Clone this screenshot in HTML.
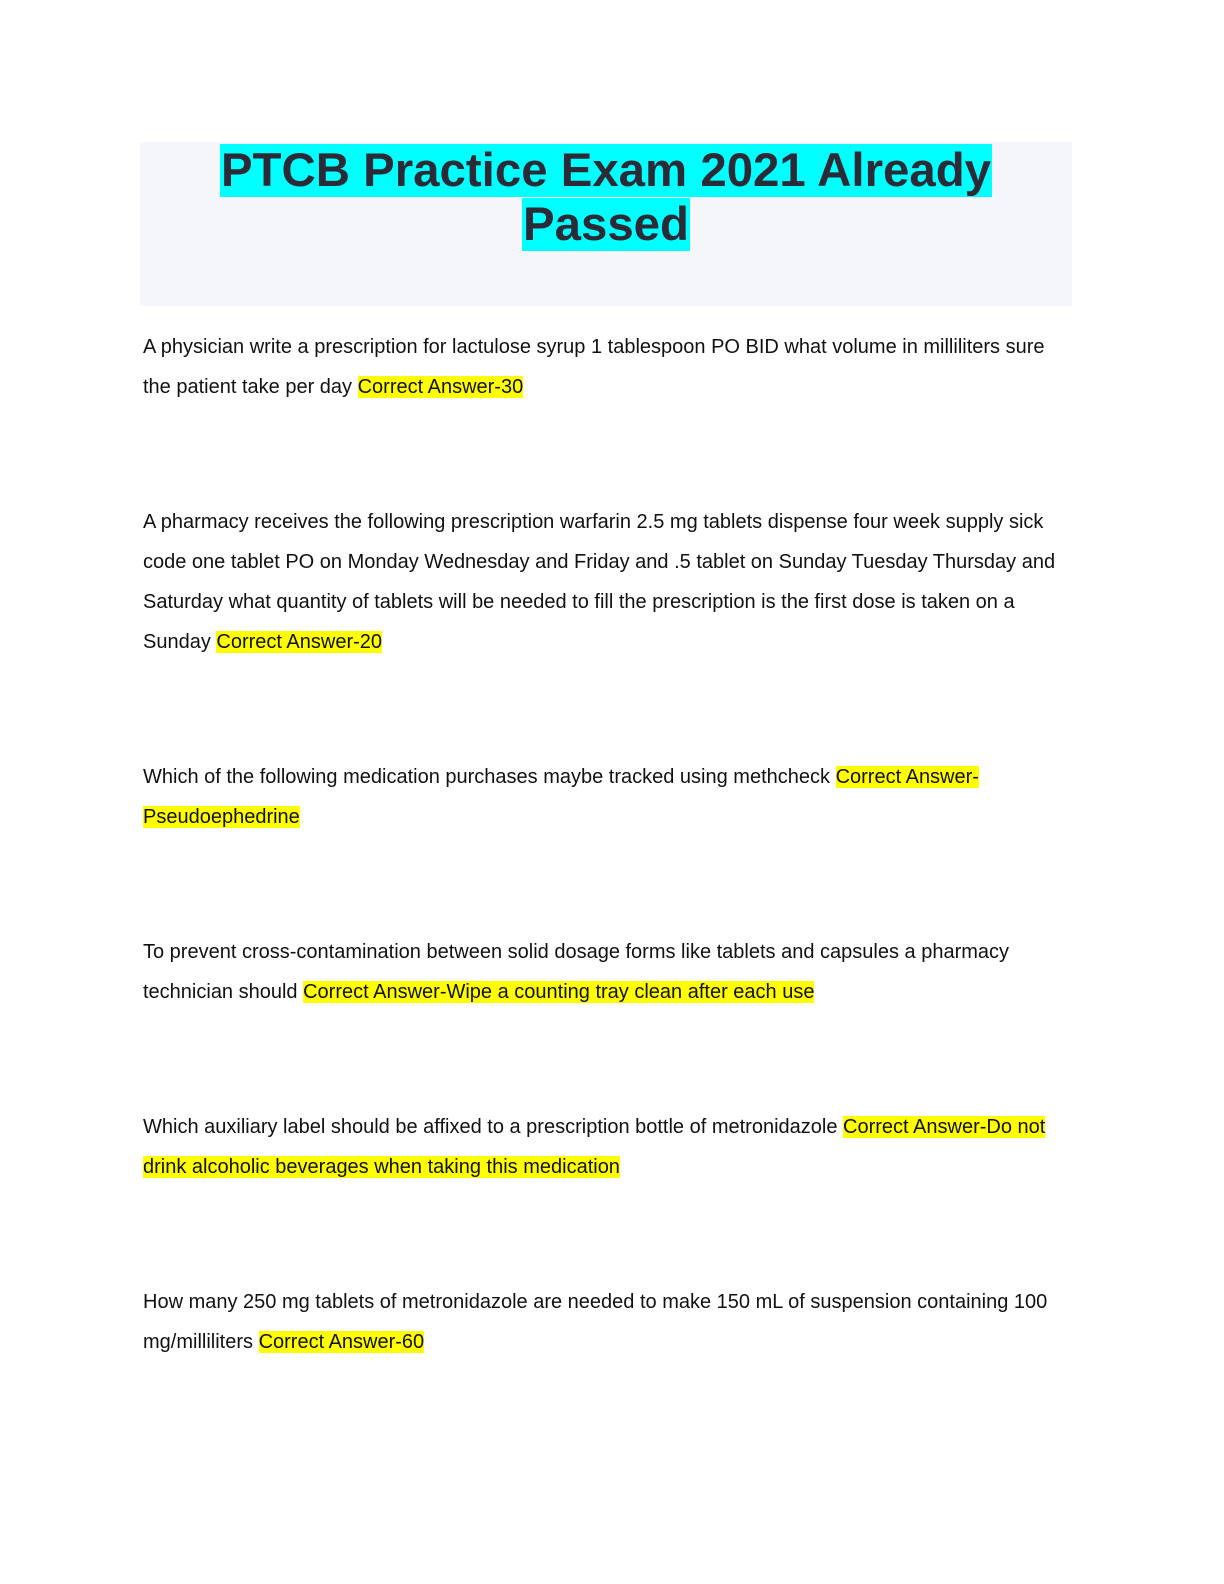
<!DOCTYPE html>
<html><head><meta charset="utf-8"><style>
body{margin:0;width:1224px;height:1584px;background:#fff;position:relative;overflow:hidden}
.tb{position:absolute;left:140px;top:142px;width:932px;height:164px;background:#f5f6fa}
.t{position:absolute;left:140px;width:932px;text-align:center;font:bold 47.4px/54px "Liberation Sans",sans-serif;color:#2b2b38}
.t span{background:#00ffff;padding:0 1px}
.l{position:absolute;left:143px;font:20px/25px "Liberation Sans",sans-serif;color:#111;white-space:nowrap}
.h{background:#ffff00}
</style></head><body>
<div class="tb"></div>
<div class="t" style="top:144px"><span>PTCB Practice Exam 2021 Already</span></div>
<div class="t" style="top:198px"><span>Passed</span></div>

<div class="l" style="top:335px">A physician write a prescription for lactulose syrup 1 tablespoon PO BID what volume in milliliters sure</div>
<div class="l" style="top:375px">the patient take per day <span class="h">Correct Answer-30</span></div>

<div class="l" style="top:510px">A pharmacy receives the following prescription warfarin 2.5 mg tablets dispense four week supply sick</div>
<div class="l" style="top:550px">code one tablet PO on Monday Wednesday and Friday and .5 tablet on Sunday Tuesday Thursday and</div>
<div class="l" style="top:590px">Saturday what quantity of tablets will be needed to fill the prescription is the first dose is taken on a</div>
<div class="l" style="top:630px">Sunday <span class="h">Correct Answer-20</span></div>

<div class="l" style="top:765px">Which of the following medication purchases maybe tracked using methcheck <span class="h">Correct Answer-</span></div>
<div class="l" style="top:805px"><span class="h">Pseudoephedrine</span></div>

<div class="l" style="top:940px">To prevent cross-contamination between solid dosage forms like tablets and capsules a pharmacy</div>
<div class="l" style="top:980px">technician should <span class="h">Correct Answer-Wipe a counting tray clean after each use</span></div>

<div class="l" style="top:1115px">Which auxiliary label should be affixed to a prescription bottle of metronidazole <span class="h">Correct Answer-Do not</span></div>
<div class="l" style="top:1155px"><span class="h">drink alcoholic beverages when taking this medication</span></div>

<div class="l" style="top:1290px">How many 250 mg tablets of metronidazole are needed to make 150 mL of suspension containing 100</div>
<div class="l" style="top:1330px">mg/milliliters <span class="h">Correct Answer-60</span></div>
</body></html>
